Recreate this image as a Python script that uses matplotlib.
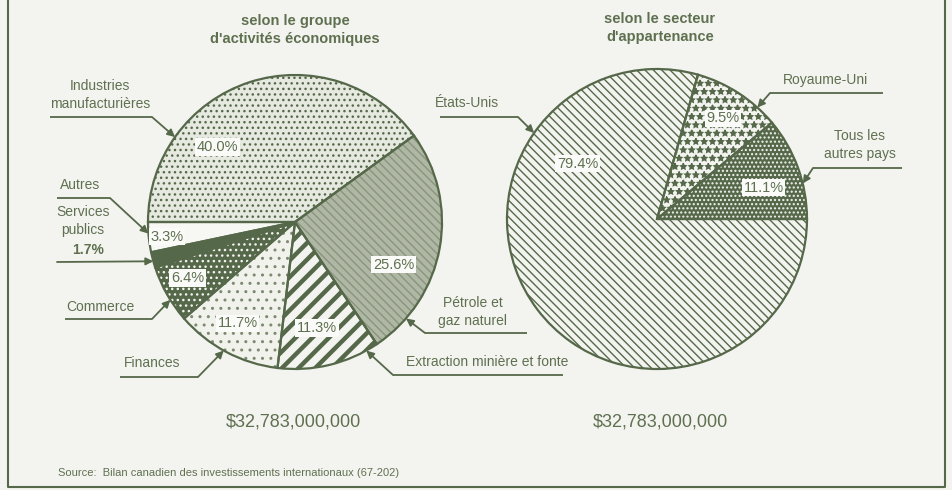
import numpy as np
import matplotlib
matplotlib.use("Agg")
import matplotlib.pyplot as plt
from matplotlib.patches import Wedge

# data
sectors = ["Industries manufacturières", "Autres", "Services publics", "Commerce",
           "Finances", "Extraction minière et fonte", "Pétrole et gaz naturel"]
sector_share = [40.0, 3.3, 1.7, 6.4, 11.7, 11.3, 25.6]
countries = ["Tous les autres pays", "Royaume-Uni", "États-Unis"]
country_share = [11.1, 9.5, 79.4]
total = 32783000000

W, H = 952, 490
INK = "#56684a"
TXT = "#5f7050"
BG = "#f3f4ef"

plt.rcParams['font.family'] = ['Liberation Sans', 'DejaVu Sans']
plt.rcParams['hatch.linewidth'] = 1.0

fig = plt.figure(figsize=(W / 100, H / 100), dpi=100, facecolor=BG)
ax = fig.add_axes([0, 0, 1, 1])
ax.set_facecolor(BG)


def P(x, y):
    """image pixel (y down) -> axes coords (y up)"""
    return x, H - y


c1, r1 = P(295, 222), 147
c2, r2 = P(657, 219), 150

# left pie styles: facecolor, hatch, hatch colour
left_style = [("#e6e9df", "...", INK),
              ("#f7f8f4", None, INK),
              (INK, None, INK),
              (INK, "...", "#f3f4ef"),
              ("#f1f2ec", "..", "#7d8a70"),
              ("#f3f4ef", "//", INK),
              ("#afb7a5", "\\\\\\\\", "#8a947d")]
right_style = [(INK, "....", "#f3f4ef"),
               ("#f3f4ef", "**", INK),
               ("#f3f4ef", "\\\\\\\\", INK)]


def draw_pie(center, radius, shares, styles, start):
    wedges, _ = ax.pie(shares, center=center, radius=radius, startangle=start,
                       counterclock=True, wedgeprops=dict(linewidth=0))
    for w, (fc, hatch, hc) in zip(wedges, styles):
        w.set_facecolor(fc)
        w.set_edgecolor(hc)
        if hatch:
            w.set_hatch(hatch)
    return wedges


wl = draw_pie(c1, r1, sector_share, left_style, 36)
wr = draw_pie(c2, r2, country_share, right_style, 0)

# thick stripes for the mining wedge
mine = wl[5]
if hasattr(mine, "set_hatch_linewidth"):
    mine.set_hatch_linewidth(3.2)
else:
    with plt.rc_context({'hatch.linewidth': 3.2}):
        thick = Wedge(mine.center, mine.r, mine.theta1, mine.theta2,
                      facecolor="#f3f4ef", edgecolor=INK, hatch="//", linewidth=0)
        ax.add_patch(thick)

# outlines on top
ax.pie(sector_share, center=c1, radius=r1, startangle=36,
       wedgeprops=dict(facecolor="none", edgecolor=INK, linewidth=1.6))
ax.pie(country_share, center=c2, radius=r2, startangle=0,
       wedgeprops=dict(facecolor="none", edgecolor=INK, linewidth=1.6))

# percentage labels (offset in pie radii)
left_lab = [(-0.53, 0.51), (-0.87, -0.10), None, (-0.73, -0.38),
            (-0.39, -0.69), (0.15, -0.72), (0.67, -0.29)]
right_lab = [(0.71, 0.21), (0.44, 0.67), (-0.53, 0.37)]
box = dict(boxstyle="square,pad=0.12", fc="#fafbf8", ec="none")
for share, off in zip(sector_share, left_lab):
    if off is None:
        continue
    ax.text(c1[0] + off[0] * r1, c1[1] + off[1] * r1, f"{share:.1f}%",
            ha="center", va="center", fontsize=10.5, color=TXT, bbox=box)
for share, off in zip(country_share, right_lab):
    ax.text(c2[0] + off[0] * r2, c2[1] + off[1] * r2, f"{share:.1f}%",
            ha="center", va="center", fontsize=10.5, color=TXT, bbox=box)

# leader labels: text, text centre (img px), underline x0, x1, y, tip angle, pie
leaders = [
    ("Industries\nmanufacturières", (100, 95), 50, 152, 117, 144.7, 1),
    ("Autres", (80, 185), 57, 110, 198, 184.5, 1),
    ("Services\npublics", (83, 221), 57, 57, 262, 195.5, 1),
    ("Commerce", (100, 307), 65, 152, 319, 212.0, 1),
    ("Finances", (152, 363), 120, 198, 377, 241.0, 1),
    ("Pétrole et\ngaz naturel", (473, 312), 527, 425, 333, 319.0, 1),
    ("Extraction minière et fonte", (487, 362), 563, 393, 375, 299.0, 1),
    ("États-Unis", (467, 103), 440, 518, 117, 145.0, 2),
    ("Royaume-Uni", (826, 80), 883, 770, 93, 48.0, 2),
    ("Tous les\nautres pays", (860, 145), 902, 813, 168, 13.7, 2),
]
for text, (tx, ty), x0, x1, uy, ang, k in leaders:
    cen, rad = (c1, r1) if k == 1 else (c2, r2)
    a = np.radians(ang)
    tip = (cen[0] + rad * np.cos(a), cen[1] + rad * np.sin(a))
    ax.text(*P(tx, ty), text, ha="center", va="center", fontsize=10,
            color=TXT, linespacing=1.35)
    ax.plot([x0, x1], [H - uy, H - uy], color=INK, lw=1.3, solid_capstyle="butt")
    ax.annotate("", xy=tip, xytext=(x1, H - uy),
                arrowprops=dict(arrowstyle="-|>", color=INK, lw=1.3,
                                mutation_scale=11, shrinkA=0, shrinkB=0))

ax.text(*P(88, 250), f"{sector_share[2]:.1f}%", ha="center", va="center",
        fontsize=10, fontweight="bold", color=TXT)

# titles
ax.text(*P(295, 30), "selon le groupe\nd'activités économiques", ha="center",
        va="center", fontsize=10.5, fontweight="bold", color=TXT, linespacing=1.4)
ax.text(*P(660, 28), "selon le secteur\nd'appartenance", ha="center",
        va="center", fontsize=10.5, fontweight="bold", color=TXT, linespacing=1.4)

amount = "${:,}".format(total)
ax.text(*P(293, 422), amount, ha="center", va="center", fontsize=13, color=TXT)
ax.text(*P(660, 422), amount, ha="center", va="center", fontsize=13, color=TXT)
ax.text(*P(58, 473), "Source:  Bilan canadien des investissements internationaux (67-202)",
        ha="left", va="center", fontsize=8, color=TXT)

# frame
ax.plot([8, 8, 945, 945], [H, H - 487, H - 487, H], color=INK, lw=1.5)

ax.set_xlim(0, W)
ax.set_ylim(0, H)
ax.set_aspect("auto")
ax.axis("off")
fig.savefig("out.png", dpi=100, facecolor=BG)
